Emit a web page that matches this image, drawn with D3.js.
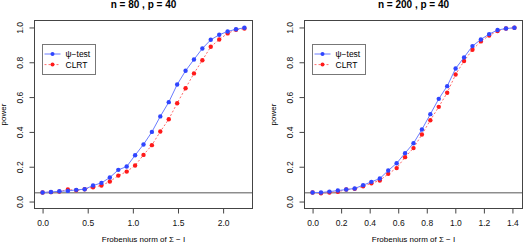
<!DOCTYPE html>
<html>
<head>
<meta charset="utf-8">
<script src="https://cdn.jsdelivr.net/npm/d3@7"></script>
<style>
  body { margin: 0; background: #fff; }
  svg { display: block; font-family: "Liberation Sans", Arial, Helvetica, sans-serif; }
</style>
</head>
<body>
<div id="chart"></div>
<script>
// panel titles
const titles = ["n = 80 , p = 40", "n = 200 , p = 40"];
const seriesNames = ["\u03c8\u2212test", "CLRT"];

// x values: Frobenius norm of Sigma - I
const xLeft = [0, 0.093, 0.186, 0.280, 0.373, 0.466, 0.559, 0.652, 0.745, 0.839, 0.932, 1.025, 1.118,
  1.211, 1.304, 1.398, 1.491, 1.584, 1.677, 1.770, 1.863, 1.957, 2.050, 2.143, 2.236];
const xRight = [0, 0.059, 0.118, 0.177, 0.236, 0.295, 0.354, 0.412, 0.471, 0.530, 0.589, 0.648, 0.707,
  0.766, 0.825, 0.884, 0.943, 1.002, 1.061, 1.120, 1.179, 1.237, 1.296, 1.355, 1.414];

// power, n = 80
const psiLeft = [0.052, 0.055, 0.059, 0.061, 0.067, 0.071, 0.092, 0.107, 0.138, 0.182, 0.201, 0.266, 0.328,
  0.400, 0.489, 0.571, 0.672, 0.751, 0.816, 0.879, 0.929, 0.958, 0.977, 0.990, 0.998];
const clrtLeft = [0.052, 0.054, 0.057, 0.069, 0.065, 0.071, 0.082, 0.092, 0.115, 0.149, 0.172, 0.207, 0.268,
  0.324, 0.402, 0.473, 0.565, 0.651, 0.736, 0.812, 0.889, 0.931, 0.966, 0.987, 0.994];

// power, n = 200
const psiRight = [0.052, 0.052, 0.057, 0.063, 0.069, 0.075, 0.094, 0.113, 0.132, 0.178, 0.220, 0.278, 0.335,
  0.414, 0.502, 0.590, 0.663, 0.764, 0.828, 0.893, 0.931, 0.962, 0.985, 0.994, 0.998];
const clrtRight = [0.052, 0.048, 0.052, 0.056, 0.069, 0.073, 0.088, 0.105, 0.121, 0.159, 0.192, 0.255, 0.307,
  0.385, 0.467, 0.544, 0.625, 0.730, 0.807, 0.872, 0.920, 0.954, 0.979, 0.994, 0.998];

const xTicksLeft = [0, 0.5, 1, 1.5, 2];
const xTicksRight = [0, 0.2, 0.4, 0.6, 0.8, 1.0, 1.2, 1.4];
const yTicks = [0, 0.2, 0.4, 0.6, 0.8, 1.0];
const alpha = 0.05;

const width = 523, height = 243;
const blue = "#2f45ff", blueLine = "#6a7cff";
const red = "#ff1a1a", redLine = "#ff6a6a";

const svg = d3.select("#chart").append("svg")
  .attr("width", width)
  .attr("height", height);

const panels = [
  { left: 34.5, right: 252.5, title: titles[0], xs: xLeft, psi: psiLeft, clrt: clrtLeft, ticks: xTicksLeft },
  { left: 304.5, right: 522.5, title: titles[1], xs: xRight, psi: psiRight, clrt: clrtRight, ticks: xTicksRight }
];
const plotTop = 20.5, plotBottom = 208.5;

panels.forEach(p => {
  let xmax = d3.max(p.xs);
  let x = d3.scaleLinear()
    .domain([-0.04 * xmax, 1.04 * xmax])
    .range([p.left, p.right]);
  let y = d3.scaleLinear()
    .domain([-0.04, 1.04])
    .range([plotBottom, plotTop]);

  let g = svg.append("g");

  // x axis
  let xa = g.append("g")
    .attr("transform", `translate(0,${plotBottom})`)
    .call(d3.axisBottom(x).tickValues(p.ticks).tickFormat(d3.format(".1f")).tickSize(5).tickPadding(6));
  xa.select(".domain").remove();
  xa.selectAll("line").attr("stroke", "#444");
  xa.selectAll("text").attr("font-size", "8.5px").attr("fill", "#111").attr("font-family", null);

  // y axis, labels parallel to the axis
  let ya = g.append("g")
    .attr("transform", `translate(${p.left},0)`)
    .call(d3.axisLeft(y).tickValues(yTicks).tickFormat(d3.format(".1f")).tickSize(5));
  ya.select(".domain").remove();
  ya.selectAll("line").attr("stroke", "#444");
  ya.selectAll("text")
    .attr("font-size", "8.5px")
    .attr("fill", "#111")
    .attr("font-family", null)
    .attr("x", null)
    .attr("dy", "0.35em")
    .attr("text-anchor", "middle")
    .attr("transform", "translate(-14.5,0) rotate(-90)");

  // reference line at the nominal level
  g.append("line")
    .attr("x1", p.left).attr("x2", p.right)
    .attr("y1", y(alpha)).attr("y2", y(alpha))
    .attr("stroke", "#555")
    .attr("stroke-width", 1);

  let line = d3.line().x(d => x(d[0])).y(d => y(d[1]));
  let psiPts = p.xs.map((v, i) => [v, p.psi[i]]);
  let clrtPts = p.xs.map((v, i) => [v, p.clrt[i]]);

  g.append("path")
    .datum(clrtPts)
    .attr("d", line)
    .attr("fill", "none")
    .attr("stroke", redLine)
    .attr("stroke-width", 1)
    .attr("stroke-dasharray", "2,2");
  g.selectAll(".clrt")
    .data(clrtPts)
    .enter().append("circle")
      .attr("class", "clrt")
      .attr("cx", d => x(d[0]))
      .attr("cy", d => y(d[1]))
      .attr("r", 2.2)
      .attr("fill", red);

  g.append("path")
    .datum(psiPts)
    .attr("d", line)
    .attr("fill", "none")
    .attr("stroke", blueLine)
    .attr("stroke-width", 1);
  g.selectAll(".psi")
    .data(psiPts)
    .enter().append("circle")
      .attr("class", "psi")
      .attr("cx", d => x(d[0]))
      .attr("cy", d => y(d[1]))
      .attr("r", 2.2)
      .attr("fill", blue);

  // box
  g.append("rect")
    .attr("x", p.left).attr("y", plotTop)
    .attr("width", p.right - p.left).attr("height", plotBottom - plotTop)
    .attr("fill", "none")
    .attr("stroke", "#444");

  // title and axis titles
  let cx = (p.left + p.right) / 2;
  g.append("text")
    .attr("x", cx).attr("y", 7.5)
    .attr("text-anchor", "middle")
    .attr("font-size", "10px")
    .attr("font-weight", "bold")
    .text(p.title);
  g.append("text")
    .attr("x", cx).attr("y", 241.5)
    .attr("text-anchor", "middle")
    .attr("font-size", "8px")
    .text("Frobenius norm of \u03a3 \u2212 I");
  g.append("text")
    .attr("transform", `translate(${p.left - 31},${(plotTop + plotBottom) / 2}) rotate(-90)`)
    .attr("dy", "0.35em")
    .attr("text-anchor", "middle")
    .attr("font-size", "8px")
    .text("power");

  // legend
  let lg = g.append("g").attr("transform", `translate(${p.left + 8},44.5)`);
  lg.append("rect")
    .attr("width", 53).attr("height", 30)
    .attr("fill", "#fff")
    .attr("stroke", "#777");
  [[seriesNames[0], blue, blueLine, null], [seriesNames[1], red, redLine, "2,2"]].forEach((s, i) => {
    let yy = 9.5 + i * 10.6;
    lg.append("line")
      .attr("x1", 2).attr("x2", 18).attr("y1", yy).attr("y2", yy)
      .attr("stroke", s[2]).attr("stroke-dasharray", s[3]);
    lg.append("circle").attr("cx", 10).attr("cy", yy).attr("r", 2).attr("fill", s[1]);
    lg.append("text")
      .attr("x", 23).attr("y", yy)
      .attr("dy", "0.35em")
      .attr("font-size", "8.5px")
      .text(s[0]);
  });
});
</script>
</body>
</html>
